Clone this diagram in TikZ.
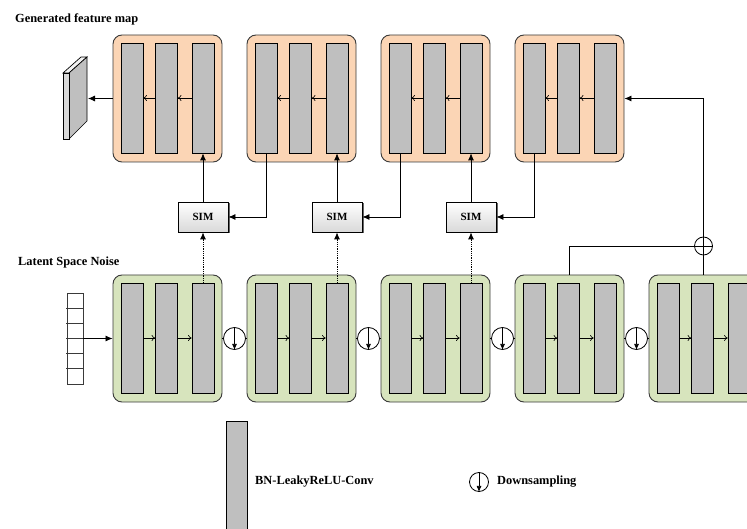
\documentclass[tikz,border=0pt]{standalone}
\usepackage{fontspec}
\setmainfont{Liberation Serif}
\usetikzlibrary{shadows,arrows.meta}
\definecolor{orangefill}{HTML}{FBD5B5}
\definecolor{greenfill}{HTML}{D7E4BD}
\definecolor{barfill}{HTML}{BFBFBF}
\definecolor{edgecol}{HTML}{3A3A3A}
\begin{document}
\begin{tikzpicture}[x=1pt,y=-1pt,
  blk/.style={draw=edgecol, line width=0.9pt, rounded corners=9pt, minimum width=109pt, minimum height=127pt, inner sep=0pt},
  oblk/.style={blk, fill=orangefill},
  gblk/.style={blk, fill=greenfill},
  bar/.style={draw=black, line width=0.7pt, fill=barfill, minimum width=22pt, minimum height=110pt, inner sep=0pt},
  simbox/.style={draw=black, line width=0.8pt, top color=white, bottom color=gray!30, minimum width=50pt, minimum height=30pt, inner sep=0pt, font=\fontsize{11}{13}\selectfont\bfseries, drop shadow={shadow xshift=1.5pt, shadow yshift=-1.5pt, fill=black!60, opacity=1}},
  ds/.style={circle, draw=black, line width=0.8pt, fill=white, minimum size=22pt, inner sep=0pt},
  lbl/.style={font=\fontsize{12.4}{14}\selectfont\bfseries, inner sep=0pt, anchor=west},
  conn/.style={line width=0.8pt, draw=black},
  tip/.style={-{Latex[length=7pt,width=6pt]}},
  inarr/.style={line width=0.6pt, -{To[length=3.5pt,width=6pt]}},
  dsarr/.style={line width=0.7pt, -{Latex[length=6pt,width=5pt]}},
]
\useasboundingbox (0,0) rectangle (747,529);
\clip (0,0) rectangle (747,529);

% titles
\node[lbl] (t1) at (15,19) {Generated feature map};
\node[lbl] (t2) at (18,263) {Latent Space Noise};

% orange blocks
\foreach \i in {0,...,3} {
  \pgfmathsetmacro{\xo}{113+134*\i}
  \node[oblk] (o\i) at (\xo+54.5,98.5) {};
  \node[bar] (o\i-1) at (\xo+19,98) {};
  \node[bar] (o\i-2) at (\xo+53.5,98) {};
  \node[bar] (o\i-3) at (\xo+90,98) {};
  \draw[inarr] (o\i-3.west) -- (o\i-2.east);
  \draw[inarr] (o\i-2.west) -- (o\i-1.east);
}

% green blocks
\foreach \i in {0,...,4} {
  \pgfmathsetmacro{\xo}{113+134*\i}
  \node[gblk] (g\i) at (\xo+54.5,338.5) {};
  \node[bar] (g\i-1) at (\xo+19,338) {};
  \node[bar] (g\i-2) at (\xo+53.5,338) {};
  \node[bar] (g\i-3) at (\xo+90,338) {};
  \draw[inarr] (g\i-1.east) -- (g\i-2.west);
  \draw[inarr] (g\i-2.east) -- (g\i-3.west);
}

% downsampling circles
\foreach \i [evaluate=\i as \j using int(\i+1)] in {0,...,3} {
  \node[ds] (d\i) at (113+134*\i+121.5,338.5) {};
  \draw[conn] (g\i.east) -- (d\i.west);
  \draw[conn] (d\i.east) -- (g\j.west);
  \draw[dsarr] (d\i.north) -- (d\i.south);
}

% SIM boxes
\node[simbox] (sim1) at (o0-3 |- 0,217) {SIM};
\node[simbox] (sim2) at (o1-3 |- 0,217) {SIM};
\node[simbox] (sim3) at (o2-3 |- 0,217) {SIM};

\draw[conn,tip] (sim1.north) -- (o0-3.south);
\draw[conn,tip] (o1-1.south) |- (sim1.east);
\draw[conn,tip] (sim2.north) -- (o1-3.south);
\draw[conn,tip] (o2-1.south) |- (sim2.east);
\draw[conn,tip] (sim3.north) -- (o2-3.south);
\draw[conn,tip] (o3-1.south) |- (sim3.east);

\draw[conn,densely dotted,tip] (g0-3.north) -- (sim1.south);
\draw[conn,densely dotted,tip] (g1-3.north) -- (sim2.south);
\draw[conn,densely dotted,tip] (g2-3.north) -- (sim3.south);

% residual sum
\node[circle, draw=black, line width=0.8pt, fill=white, minimum size=18pt, inner sep=0pt] (plus) at (g4.north |- 0,246) {};
\draw[conn] (plus.north) -- (plus.south);
\draw[conn] (plus.west) -- (plus.east);
\draw[conn] (g3.north) |- (plus.west);
\draw[conn] (g4.north) -- (plus.south);
\draw[conn,tip] (plus.north) |- (o3.east);

% output slab
\draw[draw=black, line width=0.7pt, fill=black!5] (63,73) -- (81,57) -- (87,57) -- (69,73) -- cycle;
\draw[draw=black, line width=0.7pt, fill=barfill] (69,73) -- (87,57) -- (87,121) -- (69,139) -- cycle;
\draw[draw=black, line width=0.7pt, fill=black!15] (63,73) rectangle (69,139);
\coordinate (slab) at (88,98.5);
\draw[conn,tip] (o0.west) -- (slab);

% latent noise vector
\node[draw=edgecol, line width=0.7pt, minimum width=16pt, minimum height=91pt, inner sep=0pt] (noise) at (75,338.5) {};
\foreach \k in {1,...,5} {
  \draw[line width=0.7pt, draw=edgecol] (66,293+\k*91/6) -- (84,293+\k*91/6);
}
\draw[conn,tip] (noise.east) -- (g0.west);

% legend
\node[bar, minimum width=21pt, minimum height=130pt, anchor=north] (legbar) at (236.5,421) {};
\node[lbl] (legtxt) at (255,482) {BN-LeakyReLU-Conv};
\node[ds, minimum size=19pt] (legds) at (479,482) {};
\draw[dsarr] (legds.north) -- (legds.south);
\node[lbl] (legdstxt) at (497,482) {Downsampling};
\end{tikzpicture}
\end{document}
